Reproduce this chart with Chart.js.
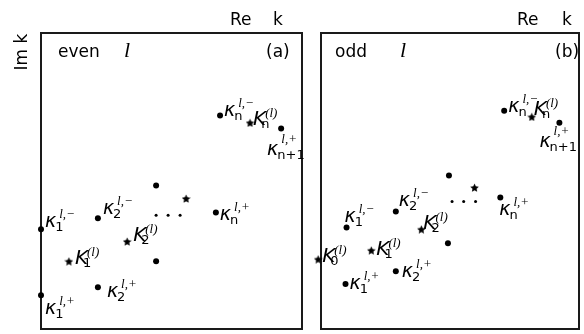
<!DOCTYPE html>
<html>
<head>
<meta charset="utf-8">
<script src="https://cdn.jsdelivr.net/npm/chart.js@4"></script>
<style>
  html, body { margin: 0; padding: 0; background: #fff; width: 584px; height: 334px; overflow: hidden; }
  canvas { position: absolute; top: 0; }
  #panelA { left: 0; }
  #panelB { left: 310px; }
</style>
</head>
<body>
<canvas id="panelA" width="310" height="334"></canvas>
<canvas id="panelB" width="274" height="334"></canvas>
<script>
// (a) even l : poles in the complex k plane (Re k, Im k)
const evenDotRe  = [0, 0, 2.18, 2.18, 4.41, 4.41, 6.70, 6.86, 9.20];
const evenDotIm  = [-6.63, -8.86, -6.26, -8.59, -5.15, -7.71, -6.06, -2.79, -3.23];
const evenDotSub = ['1', '1', '2', '2', '', '', 'n', 'n', 'n+1'];
const evenDotSign = ['−', '+', '−', '+', '', '', '+', '−', '+'];
const evenStarRe = [1.07, 3.30, 5.56, 8.01];
const evenStarIm = [-7.71, -7.04, -5.59, -3.03];
const evenStarSub = ['1', '2', '', 'n'];
const evenGapRe = [4.41, 4.87, 5.33];
const evenGapIm = [-6.16, -6.16, -6.16];

// (b) odd l
const oddDotRe  = [0.99, 0.95, 2.90, 2.90, 4.96, 4.92, 6.95, 7.10, 9.24];
const oddDotIm  = [-6.57, -8.48, -6.03, -8.05, -4.81, -7.10, -5.56, -2.63, -3.03];
const oddDotSub = ['1', '1', '2', '2', '', '', 'n', 'n', 'n+1'];
const oddDotSign = ['−', '+', '−', '+', '', '', '+', '−', '+'];
const oddStarRe = [-0.11, 1.95, 3.89, 5.95, 8.17];
const oddStarIm = [-7.64, -7.34, -6.63, -5.22, -2.83];
const oddStarSub = ['0', '1', '2', '', 'n'];
const oddGapRe = [5.08, 5.53, 5.99];
const oddGapIm = [-5.69, -5.69, -5.69];

const ink = '#000';
const kappaFont = "italic 19px 'DejaVu Sans'";
const capFont = "italic 20px 'DejaVu Sans'";
const subFont = "13px 'DejaVu Sans'";
const supFont = "italic 13px 'Liberation Serif'";
const textFont = "17px 'DejaVu Sans'";

function starImage(size) {
    const c = document.createElement('canvas');
    c.width = c.height = size;
    const g = c.getContext('2d');
    const r = size / 2, ri = r * 0.48;
    g.beginPath();
    for (let i = 0; i < 10; i++) {
        const a = -Math.PI / 2 + i * Math.PI / 5;
        const rr = i % 2 ? ri : r;
        g.lineTo(r + rr * Math.cos(a), r + 0.6 + rr * Math.sin(a));
    }
    g.closePath();
    g.fillStyle = ink;
    g.fill();
    return c;
}
const star = starImage(9);

const toPoints = (re, im) => re.map((x, i) => ({ x: x, y: im[i] }));

function drawDotLabel(ctx, x, y, sub, sign) {
    ctx.font = kappaFont;
    ctx.fillText('κ', x, y);
    const w = ctx.measureText('κ').width;
    ctx.font = subFont;
    ctx.fillText(sub, x + w - 1, y + 4);
    ctx.font = supFont;
    ctx.fillText('l,' + sign, x + w + 3, y - (sub.length > 1 ? 12 : 9));
}

function drawStarLabel(ctx, x, y, sub) {
    ctx.font = capFont;
    ctx.fillText('K', x, y);
    const w = ctx.measureText('K').width;
    ctx.font = subFont;
    ctx.fillText(sub, x + w - 5, y + 3);
    ctx.font = supFont;
    ctx.fillText('(l)', x + w - 1, y - 8);
}

const figurePlugin = {
    id: 'figure',
    beforeDatasetsDraw(chart, args, o) {
        const ctx = chart.ctx, a = chart.chartArea;
        ctx.save();
        ctx.strokeStyle = '#1a1a1a';
        ctx.lineWidth = 2;
        ctx.strokeRect(a.left, a.top, a.right - a.left, a.bottom - a.top);
        ctx.fillStyle = ink;
        ctx.font = textFont;
        ctx.fillText('Re', o.re[0], 25);
        ctx.fillText('k', o.re[1], 25);
        ctx.fillText(o.parity, o.parityX, 57);
        ctx.fillText(o.tag, o.tagX, 57);
        ctx.font = "italic 22px 'Liberation Serif'";
        ctx.fillText('l', o.lX, 57);
        if (o.imk) {
            ctx.font = textFont;
            ctx.translate(27, 52);
            ctx.rotate(-Math.PI / 2);
            ctx.textAlign = 'center';
            ctx.fillText('Im k', 0, 0);
        }
        ctx.restore();
    },
    afterDatasetsDraw(chart, args, o) {
        const ctx = chart.ctx;
        ctx.save();
        ctx.fillStyle = ink;
        const dots = chart.getDatasetMeta(0).data;
        dots.forEach((p, i) => {
            const off = o.dotOff[i];
            if (off) drawDotLabel(ctx, p.x + off[0], p.y + off[1], o.dotSub[i], o.dotSign[i]);
        });
        const stars = chart.getDatasetMeta(1).data;
        stars.forEach((p, i) => {
            const off = o.starOff[i];
            if (off) drawStarLabel(ctx, p.x + off[0], p.y + off[1], o.starSub[i]);
        });
        ctx.restore();
    }
};

function makePanel(id, dots, stars, gap, padding, fig) {
    return new Chart(document.getElementById(id), {
        type: 'scatter',
        data: {
            datasets: [
                { data: dots, pointRadius: 3, pointBackgroundColor: ink, pointBorderWidth: 0, clip: false },
                { data: stars, pointStyle: star, clip: false },
                { data: gap, pointRadius: 1.5, pointBackgroundColor: ink, pointBorderWidth: 0, clip: false },
            ],
        },
        options: {
            responsive: false,
            animation: false,
            devicePixelRatio: 1,
            layout: { padding: padding },
            scales: {
                x: { type: 'linear', min: 0, max: 10, display: false },
                y: { type: 'linear', min: -10, max: 0, display: false },
            },
            plugins: {
                legend: { display: false },
                tooltip: { enabled: false },
                figure: fig,
            },
        },
        plugins: [figurePlugin],
    });
}

makePanel('panelA',
    toPoints(evenDotRe, evenDotIm),
    toPoints(evenStarRe, evenStarIm),
    toPoints(evenGapRe, evenGapIm),
    { left: 41, right: 8, top: 33, bottom: 4 },
    {
        re: [230, 273], parity: 'even', parityX: 58, lX: 124, tag: '(a)', tagX: 266, imk: true,
        dotSub: evenDotSub, dotSign: evenDotSign, starSub: evenStarSub,
        dotOff: [[4, -2], [4, 19], [5, -4], [9, 10], null, null, [4, 8], [4, 0], [-14, 26]],
        starOff: [[6, 3], [6, 0], null, [3, 2]],
    });

makePanel('panelB',
    toPoints(oddDotRe, oddDotIm),
    toPoints(oddStarRe, oddStarIm),
    toPoints(oddGapRe, oddGapIm),
    { left: 11, right: 1, top: 33, bottom: 4 },
    {
        re: [207, 252], parity: 'odd', parityX: 25, lX: 90, tag: '(b)', tagX: 245, imk: false,
        dotSub: oddDotSub, dotSign: oddDotSign, starSub: oddStarSub,
        dotOff: [[-2, -5], [4, 5], [3, -5], [6, 6], null, null, [-1, 17], [4, 1], [-20, 24]],
        starOff: [[4, 3], [5, 5], [2, 0], null, [2, -2]],
    });
</script>
</body>
</html>
